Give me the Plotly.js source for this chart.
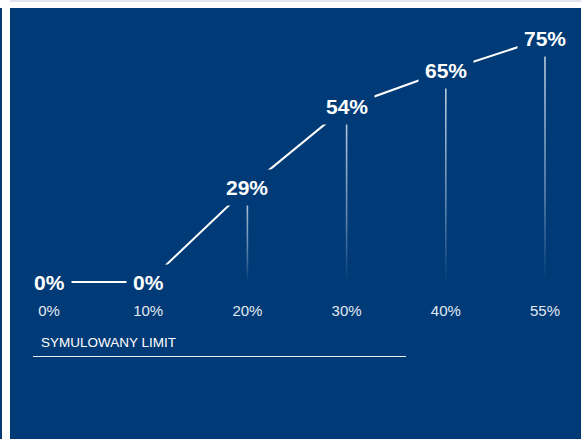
<!DOCTYPE html>
<html>
<head>
<meta charset="utf-8">
<script src="https://cdn.plot.ly/plotly-3.0.1.min.js"></script>
<style>html,body{margin:0;padding:0;background:#003b77;}#chart{width:581px;height:439px;}</style>
</head>
<body>
<div id="chart"></div>
<script>
// Data
const categories = ['0%', '10%', '20%', '30%', '40%', '55%'];
const values = [0, 0, 29, 54, 65, 75];
const valueLabels = ['0%', '0%', '29%', '54%', '65%', '75%'];
const footerLabel = 'SYMULOWANY LIMIT';

const BLUE = '#003b77';
const W = 581, H = 439;
const plotBottom = 300; // px
const idx = categories.map((c, i) => i);

const traces = [];
// thin vertical fading lines, built from the values
const half = 0.008;
idx.forEach(i => {
  const v = values[i];
  if (v <= 0) return;
  traces.push({
    type: 'scatter', mode: 'lines',
    x: [i - half, i + half, i + half, i - half, i - half],
    y: [0, 0, v, v, 0],
    fill: 'toself',
    line: {width: 0, color: 'rgba(0,0,0,0)'},
    fillgradient: {
      type: 'vertical',
      colorscale: [[0, 'rgba(190,205,225,0)'], [0.35, 'rgba(190,205,225,0.5)'], [1, 'rgba(205,216,232,1)']]
    },
    hoverinfo: 'skip', showlegend: false
  });
});
// connecting line
traces.push({
  type: 'scatter', mode: 'lines', x: idx, y: values,
  line: {color: '#ffffff', width: 2},
  hoverinfo: 'skip', showlegend: false, cliponaxis: false
});

const annotations = idx.map(i => ({
  x: i, y: values[i], xref: 'x', yref: 'y',
  text: '<b>' + valueLabels[i] + '</b>', showarrow: false,
  font: {family: 'Liberation Sans, Arial, sans-serif', size: 21, color: '#ffffff'},
  bgcolor: BLUE, borderpad: 6, xanchor: 'center', yanchor: 'middle'
}));
const py = p => (plotBottom - p) / plotBottom; // pixel y -> paper y
annotations.push({
  xref: 'paper', yref: 'paper', x: 39 / W, y: py(342),
  xanchor: 'left', yanchor: 'middle', showarrow: false,
  text: footerLabel,
  font: {family: 'Liberation Sans, Arial, sans-serif', size: 13.5, color: '#ffffff'}
});

const shapes = [
  {type: 'line', xref: 'paper', yref: 'paper', x0: 33 / W, x1: 406 / W, y0: py(356.5), y1: py(356.5), line: {color: '#e8eef6', width: 1}},
  {type: 'rect', xref: 'paper', yref: 'paper', x0: 0, x1: 10 / W, y0: py(H), y1: py(0), fillcolor: '#ffffff', line: {width: 0}, layer: 'above'},
  {type: 'rect', xref: 'paper', yref: 'paper', x0: 0, x1: 1, y0: py(8), y1: py(0), fillcolor: '#ffffff', line: {width: 0}, layer: 'above'},
  {type: 'rect', xref: 'paper', yref: 'paper', x0: 10 / W, x1: 1, y0: py(2), y1: py(0), fillcolor: '#e1e5f1', line: {width: 0}, layer: 'above'},
  {type: 'rect', xref: 'paper', yref: 'paper', x0: 0, x1: 2 / W, y0: py(H), y1: py(8), fillcolor: BLUE, line: {width: 0}, layer: 'above'}
];

const pxPerX = 99.2, x0px = 49;
const pxPerY = 3.25, y0px = 282;
const layout = {
  width: W, height: H,
  margin: {l: 0, r: 0, t: 0, b: H - plotBottom, pad: 0},
  paper_bgcolor: BLUE, plot_bgcolor: BLUE,
  showlegend: false,
  xaxis: {
    range: [-x0px / pxPerX, (W - x0px) / pxPerX],
    tickmode: 'array', tickvals: idx, ticktext: categories,
    showgrid: false, zeroline: false, showline: false, ticks: '',
    tickfont: {family: 'Liberation Sans, Arial, sans-serif', size: 15, color: '#e3e9f2'},
    fixedrange: true
  },
  yaxis: {
    range: [-(plotBottom - y0px) / pxPerY, y0px / pxPerY],
    visible: false, fixedrange: true
  },
  annotations: annotations,
  shapes: shapes
};
Plotly.newPlot('chart', traces, layout, {displayModeBar: false, staticPlot: true});
</script>
</body>
</html>
